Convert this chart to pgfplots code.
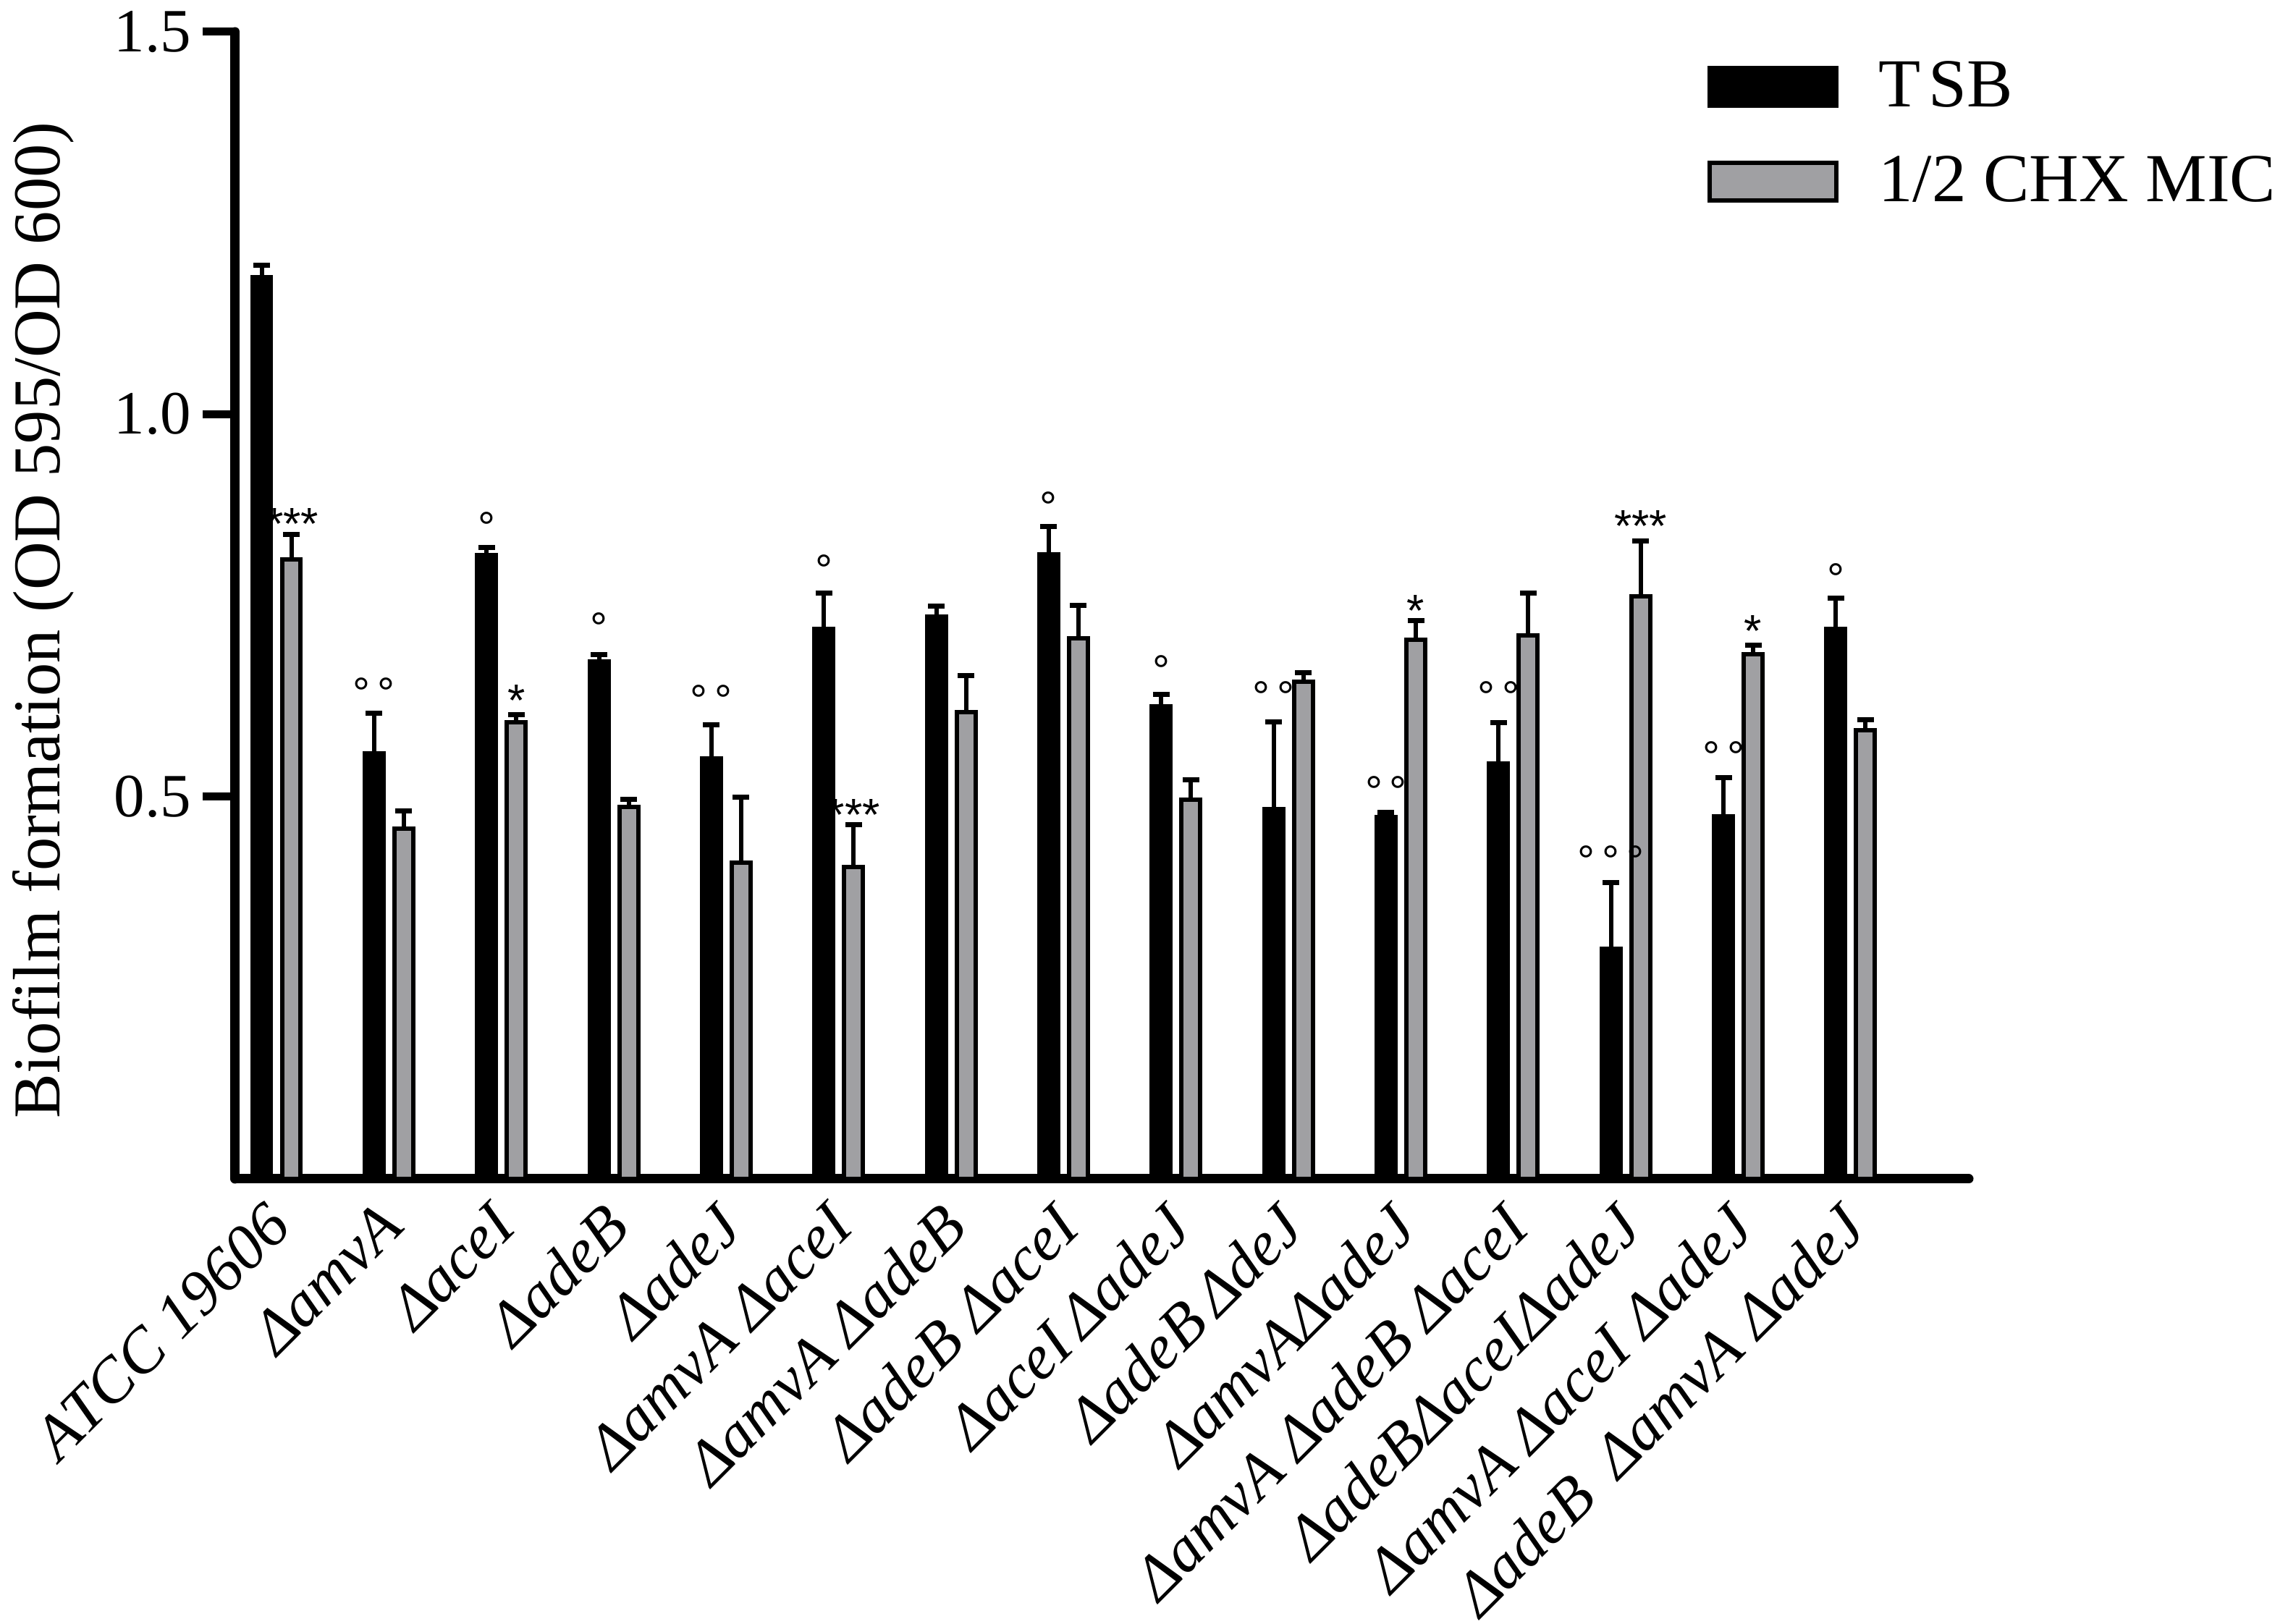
\documentclass[border=0pt]{standalone}
\usepackage{pgfplots}
\usepackage{pgfplotstable}
\pgfplotsset{compat=1.18}
\usepackage{fontspec}
\setmainfont{Liberation Serif}
\newfontfamily\sansf{Liberation Sans}
\definecolor{barGrey}{RGB}{160,160,163}

\pgfplotstableread{
x y e
0 1.179 0.016
1 0.556 0.053
2 0.816 0.010
3 0.677 0.009
4 0.550 0.044
5 0.719 0.047
6 0.735 0.014
7 0.817 0.036
8 0.618 0.016
9 0.484 0.114
10 0.473 0.006
11 0.543 0.054
12 0.301 0.087
13 0.474 0.051
14 0.719 0.040
}\tsbdata

\pgfplotstableread{
x y e
0 0.810 0.033
1 0.458 0.023
2 0.597 0.010
3 0.486 0.010
4 0.414 0.085
5 0.408 0.055
6 0.610 0.048
7 0.707 0.043
8 0.496 0.026
9 0.650 0.012
10 0.705 0.025
11 0.711 0.055
12 0.762 0.072
13 0.686 0.012
14 0.587 0.013
}\chxdata

\begin{document}
\begin{tikzpicture}
\useasboundingbox (-65pt,-123pt) rectangle (567.2pt,325.8pt);
\begin{axis}[
  at={(0pt,0pt)}, anchor=south west,
  scale only axis, width=479pt, height=317pt,
  xmin=-0.367, xmax=15.05, ymin=0, ymax=1.5,
  clip=false,
  axis x line*=bottom, axis y line*=left,
  axis line style={line width=2.6pt, line cap=round},
  ybar,
  legend image code/.code={\draw[#1] (0pt,-5.2pt) rectangle (35pt,5.2pt);},
  ytick={0.5,1.0,1.5}, yticklabels={0.5,1.0,1.5},
  tick align=outside, major tick length=9pt,
  ytick style={line width=2.2pt, black},
  xtick={0,...,14},
  xtick style={draw=none},
  xticklabels={ATCC 19606, ΔamvA, ΔaceI, ΔadeB, ΔadeJ, ΔamvA ΔaceI, ΔamvA ΔadeB, ΔadeB ΔaceI, ΔaceI\,ΔadeJ, ΔadeB\,ΔdeJ, ΔamvAΔadeJ, ΔamvA ΔadeB ΔaceI, ΔadeBΔaceIΔadeJ, ΔamvA ΔaceI ΔadeJ, ΔadeB\;\,ΔamvA ΔadeJ},
  xticklabel style={rotate=45, anchor=north east, inner sep=0pt, yshift=5pt, xshift=0pt, font=\fontsize{17.5}{21}\selectfont\itshape},
  yticklabel style={inner sep=0pt, xshift=-3pt, font=\fontsize{17}{20}\selectfont},
  ylabel={Biofilm formation (OD 595/OD 600)},
  ylabel style={at={(axis description cs:-0.1107,0.487)}, anchor=center, font=\fontsize{18.5}{21}\selectfont},
  legend style={at={(rel axis cs:0.849,0.981)}, anchor=north west, draw=none, fill=none, inner sep=0pt, row sep=8pt, font=\fontsize{19}{22}\selectfont, cells={anchor=west}, /tikz/every odd column/.append style={column sep=9pt}},
  legend cell align=left,
]
\addplot[fill=black, draw=black, line width=1.2pt, bar width=0.167, bar shift=-0.132,
  error bars/.cd, y dir=plus, y explicit,
  error bar style={line width=1.2pt, black, solid},
  error mark options={rotate=90, line width=1.4pt, mark size=2.3pt, black}]
  table[x=x, y=y, y error=e] {\tsbdata};
\addlegendentry{T\hspace{0.12em}SB}
\addplot[fill=barGrey, draw=black, line width=1.2pt, bar width=0.167, bar shift=0.132,
  error bars/.cd, y dir=plus, y explicit,
  error bar style={line width=1.2pt, black, solid},
  error mark options={rotate=90, line width=1.4pt, mark size=2.3pt, black}]
  table[x=x, y=y, y error=e] {\chxdata};
\addlegendentry{1/2 CHX MIC}

\tikzset{circ/.style={font=\sansf\fontsize{12}{12}\selectfont, inner sep=0pt, anchor=center, yshift=-2.6pt},
         ast/.style={font=\sansf\fontsize{12.5}{12.5}\selectfont, inner sep=0pt, anchor=center, yshift=-2.7pt}}
\node[ast]  at (axis cs:0.14,0.869) {***};
\node[circ] at (axis cs:0.868,0.648) {°\,°};
\node[circ] at (axis cs:1.868,0.864) {°};
\node[ast]  at (axis cs:2.132,0.638) {*};
\node[circ] at (axis cs:2.868,0.733) {°};
\node[circ] at (axis cs:3.868,0.638) {°\,°};
\node[circ] at (axis cs:4.868,0.809) {°};
\node[ast]  at (axis cs:5.132,0.489) {***};
\node[circ] at (axis cs:6.868,0.891) {°};
\node[circ] at (axis cs:7.868,0.677) {°};
\node[circ] at (axis cs:8.868,0.643) {°\,°};
\node[circ] at (axis cs:9.868,0.519) {°\,°};
\node[ast]  at (axis cs:10.132,0.756) {*};
\node[circ] at (axis cs:10.868,0.643) {°\,°};
\node[circ] at (axis cs:11.868,0.428) {°\,°\,°};
\node[ast]  at (axis cs:12.132,0.866) {***};
\node[circ] at (axis cs:12.868,0.564) {°\,°};
\node[ast]  at (axis cs:13.132,0.729) {*};
\node[circ] at (axis cs:13.868,0.797) {°};
\end{axis}
\end{tikzpicture}
\end{document}
